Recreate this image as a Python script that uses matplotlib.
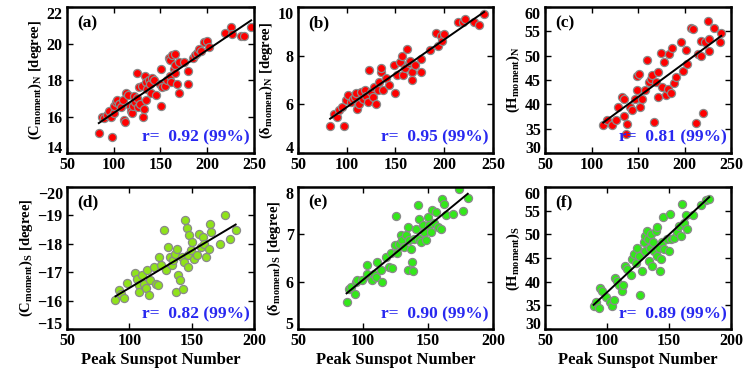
import matplotlib
matplotlib.use('Agg')
import matplotlib.pyplot as plt
import numpy as np

plt.rcParams['font.family'] = ['Liberation Serif', 'DejaVu Serif']
plt.rcParams['font.weight'] = 'bold'
plt.rcParams['axes.labelweight'] = 'bold'
plt.rcParams['mathtext.fontset'] = 'custom'
plt.rcParams['mathtext.rm'] = 'Liberation Serif:bold'
plt.rcParams['mathtext.bf'] = 'Liberation Serif:bold'
plt.rcParams['mathtext.it'] = 'Liberation Serif:bold'

# (a) C_moment north
ssn_a = [84, 98, 87, 90, 93, 95, 97, 100, 100, 102, 104, 106, 108, 110, 111, 112, 113, 115, 117, 118,
         120, 121, 122, 123, 125, 125, 126, 127, 128, 130, 131, 132, 133, 134, 135, 136, 138, 139, 140, 141,
         143, 145, 151, 151, 150, 152, 155, 157, 159, 160, 160, 161, 162, 165, 164, 165, 166, 168, 170, 170,
         175, 179, 179, 185, 187, 189, 191, 193, 197, 200, 202, 219, 225, 227, 236, 239, 247]
c_n = [15.1, 14.9, 16.0, 15.9, 16.1, 16.3, 16.0, 16.2, 16.6, 16.8, 16.9, 16.7, 16.5, 16.9, 15.8, 15.7, 17.3, 17.2, 16.6, 16.3,
       16.2, 16.6, 17.1, 16.8, 18.4, 17.0, 16.5, 17.6, 16.7, 17.7, 16.0, 16.4, 18.2, 16.9, 17.9, 17.5, 18.0, 17.8, 17.3, 18.1,
       18.0, 17.2, 18.6, 16.6, 17.8, 17.6, 17.7, 18.0, 19.2, 19.1, 18.2, 17.9, 19.4, 19.45, 18.6, 18.8, 18.4, 17.8, 17.3, 19.0,
       19.0, 18.5, 17.8, 19.2, 19.4, 19.5, 19.7, 19.6, 20.1, 20.15, 19.8, 20.6, 20.9, 20.5, 20.4, 20.4, 20.9]

# (b) delta_moment north
ssn_b = [83, 97, 87, 90, 92, 95, 99, 101, 104, 106, 108, 110, 111, 113, 115, 117, 119, 120, 122, 123,
         125, 127, 128, 130, 132, 133, 135, 135, 137, 140, 143, 148, 150, 152, 155, 157, 158, 160, 162, 164,
         165, 167, 167, 170, 176, 176, 185, 192, 194, 197, 198, 200, 214, 219, 221, 231, 236, 241]
d_n = [5.12, 5.09, 5.6, 5.5, 5.75, 5.9, 6.17, 6.4, 6.1, 6.2, 6.3, 6.45, 5.82, 6.0, 6.5, 6.2, 6.6, 6.35, 6.1, 7.42,
       6.5, 6.3, 6.7, 6.0, 6.6, 6.9, 7.35, 7.5, 6.6, 7.1, 6.8, 7.6, 6.48, 7.2, 7.73, 8.0, 7.2, 7.5, 8.27, 7.7,
       7.8, 7.35, 7.0, 7.6, 7.85, 7.35, 8.25, 8.95, 8.4, 8.8, 8.6, 8.9, 9.4, 9.4, 9.5, 9.4, 9.27, 9.72]

# (c) H_moment north
ssn_c = [112.6, 117, 122, 126, 129, 133, 135, 136.7, 138, 135, 141, 143, 147, 149, 149, 151, 152, 154, 158, 160,
         162, 163.7, 165.5, 167, 169, 171, 172, 174.5, 176, 178, 180, 182, 183.6, 185, 187, 189, 191, 196, 198, 201.6,
         203, 207, 209, 212.5, 214, 218, 219.7, 218, 221.5, 225, 226.6, 226, 232, 237.7, 239.5]
h_n = [35.8, 36.7, 35.8, 36.8, 39.4, 41.6, 37.6, 34.0, 36.0, 41.2, 39.5, 38.8, 41.2, 42.9, 45.8, 46.3, 39.5, 41.2, 42.9, 49.1,
       44.6, 45.3, 46.0, 36.4, 44.6, 46.7, 41.6, 50.5, 43.6, 48.8, 42.0, 43.1, 50.3, 42.4, 51.6, 44.3, 45.7, 52.8, 46.8, 51.2,
       48.4, 55.7, 55.4, 36.2, 50.3, 49.9, 38.2, 53.0, 52.8, 57.2, 51.0, 53.4, 55.6, 52.8, 54.7]

# (d) C_moment south
ssn_d = [88.9, 91.4, 93.6, 95.8, 97.8, 104.7, 106, 107.5, 108, 110, 111.7, 113, 114, 115.8, 116.4, 120, 121.4, 122.8, 124, 125.6,
         128, 129.7, 131, 132.5, 134, 135.3, 136.7, 137.5, 138.6, 139.4, 140.8, 142.2, 143, 143.6, 145, 146.4, 147.2, 147.2, 147.8, 149.2,
         150.5, 152, 154, 156, 157.5, 158.9, 160.3, 161.7, 163.6, 164.4, 165.8, 172.8, 177, 181, 185.3]
c_s = [-16.02, -16.37, -16.25, -16.08, -16.64, -16.96, -16.78, -16.55, -16.3, -16.9, -16.6, -16.43, -17.07, -16.2, -16.72, -17.19, -16.6, -16.55, -17.54, -17.25,
       -18.48, -17.07, -17.9, -17.54, -17.25, -17.42, -17.66, -16.31, -17.83, -16.9, -16.72, -17.54, -16.4, -17.37, -18.83, -18.54, -17.6, -17.19, -18.3, -17.77,
       -18.07, -17.48, -17.6, -18.36, -17.9, -18.24, -18.0, -17.54, -17.83, -18.71, -18.42, -18.0, -19.0, -18.18, -18.48]

# (e) delta_moment south
ssn_e = [87.4, 89.2, 90.5, 93.8, 94.3, 95.6, 99.5, 103.4, 103.4, 105.9, 107.2, 108.5, 109.8, 111, 113.7, 115, 117.5, 120, 121.4, 122.7,
         124.5, 125.3, 126.5, 127.8, 129, 130.4, 131.7, 133, 134.3, 135, 135.6, 136.9, 138, 138.6, 139.4, 140.7, 142, 143.3, 143.3, 144.6,
         145.9, 147.2, 148.5, 149.7, 151, 152.3, 153, 154.9, 156.2, 158, 160, 160.6, 162.5, 163.9, 169, 173.7, 176.7, 180.6]
d_s = [5.58, 5.84, 5.89, 5.75, 6.0, 6.03, 6.03, 6.35, 6.17, 6.07, 6.03, 6.17, 6.1, 6.42, 6.24, 6.0, 6.52, 6.31, 6.6, 6.28,
       6.77, 7.39, 6.6, 6.8, 6.98, 6.88, 6.74, 6.98, 6.24, 7.16, 6.88, 6.7, 6.42, 6.22, 6.91, 7.12, 7.61, 7.33, 6.91, 6.84,
       7.19, 7.05, 6.88, 7.37, 7.19, 7.05, 7.51, 7.23, 7.47, 7.16, 7.12, 7.75, 7.65, 7.4, 7.44, 7.95, 7.5, 7.77]

# (f) H_moment south
ssn_f = [89.2, 91.4, 93.2, 94.6, 95.9, 99.5, 102.7, 104, 105.4, 106.8, 108.1, 109.5, 112.2, 113, 114.9, 116.2, 119, 120.3, 121.6, 123,
         124.3, 125.7, 126.5, 128.4, 129.7, 130.3, 131, 132.4, 133, 133.8, 134.6, 135.1, 136.5, 137.3, 137.8, 139.2, 140, 140.5, 141.9, 142.7,
         143.2, 144.6, 145.4, 145.9, 148.6, 150, 150.8, 151.4, 154, 156.8, 158.1, 159.5, 160.8, 162.2, 163.5, 164.9, 169, 175.7, 179.7, 182.4]
h_s = [34.8, 35.8, 34.4, 38.7, 38.0, 36.7, 35.8, 34.8, 36.2, 40.8, 40.1, 39.4, 38.1, 39.4, 43.3, 42.6, 41.5, 44.7, 45.8, 44.0,
       47.2, 45.4, 37.3, 42.2, 48.3, 46.5, 49.7, 50.8, 49.0, 44.4, 47.2, 50.0, 43.3, 48.3, 46.5, 50.8, 45.4, 51.5, 47.2, 42.2,
       44.7, 48.3, 53.6, 46.9, 49.0, 46.5, 54.3, 49.0, 49.3, 50.4, 51.8, 49.7, 56.4, 52.5, 54.0, 51.1, 54.0, 56.1, 57.3, 57.5]

labels = ['(a)', '(b)', '(c)', '(d)', '(e)', '(f)']
r_text = ['r=  0.92 (99%)', 'r=  0.95 (99%)', 'r=  0.81 (99%)',
          'r=  0.82 (99%)', 'r=  0.90 (99%)', 'r=  0.89 (99%)']
ylabels = [r'(C$_\mathrm{moment}$)$_\mathrm{N}$ [degree]',
           r'(δ$_\mathrm{moment}$)$_\mathrm{N}$ [degree]',
           r'(H$_\mathrm{moment}$)$_\mathrm{N}$',
           r'(C$_\mathrm{moment}$)$_\mathrm{S}$ [degree]',
           r'(δ$_\mathrm{moment}$)$_\mathrm{S}$ [degree]',
           r'(H$_\mathrm{moment}$)$_\mathrm{S}$']
xs = [ssn_a, ssn_b, ssn_c, ssn_d, ssn_e, ssn_f]
ys = [c_n, d_n, h_n, c_s, d_s, h_s]
ylims = [(14, 22), (4, 10), (30, 60), (-15, -20), (5, 8), (30, 60)]
yticks = [[14, 16, 18, 20, 22], [4, 6, 8, 10], [30, 35, 40, 45, 50, 55, 60],
          [-20, -19, -18, -17, -16, -15], [5, 6, 7, 8], [30, 35, 40, 45, 50, 55, 60]]
xticks = [[50, 100, 150, 200, 250]] * 3 + [[50, 100, 150, 200]] * 3
colors = ['#ff0000'] * 3 + ['#8fe31a', '#33e81a', '#33e81a']

rects = [[0.0897, 0.591, 0.2503, 0.390], [0.3989, 0.591, 0.2610, 0.390], [0.7296, 0.591, 0.2490, 0.390],
         [0.0897, 0.120, 0.2503, 0.380], [0.3989, 0.120, 0.2610, 0.380], [0.7296, 0.120, 0.2490, 0.380]]

fig = plt.figure(figsize=(7.47, 3.74), dpi=100)

for i in range(6):
    ax = fig.add_axes(rects[i])
    x = np.array(xs[i])
    y = np.array(ys[i])
    ax.scatter(x, y, s=34, c=colors[i], edgecolors='#8a8a8a', linewidths=0.9, zorder=2)
    p = np.polyfit(x, y, 1)
    xx = np.array([x.min(), x.max()])
    ax.plot(xx, np.polyval(p, xx), color='black', lw=1.4, zorder=3)

    ax.set_xlim(xticks[i][0], xticks[i][-1])
    ax.set_ylim(ylims[i])
    ax.set_xticks(xticks[i])
    ax.set_xticklabels([str(v) for v in xticks[i]], fontweight='bold', fontsize=11.5)
    ax.set_yticks(yticks[i])
    ax.set_yticklabels([str(v).replace('-', '\u2212') for v in yticks[i]], fontweight='bold', fontsize=11.5)
    # end labels sit inside the frame, as in the original
    for v, t in zip(yticks[i], ax.get_yticklabels()):
        if v == ylims[i][0]:
            t.set_va('baseline')
        elif v == ylims[i][1]:
            t.set_va('top')
    ax.tick_params(direction='in', top=True, right=True, length=4, width=1, pad=3)
    for sp in ax.spines.values():
        sp.set_linewidth(1.8)

    ax.set_ylabel(ylabels[i], fontsize=10.5, fontweight='bold', labelpad=2)
    ax.text(0.055, 0.945, labels[i], transform=ax.transAxes, fontsize=12.5, fontweight='bold', va='top', ha='left')
    ax.text(0.975, 0.05, r_text[i], transform=ax.transAxes, fontsize=12.5, fontweight='bold',
            color='#2828f0', va='bottom', ha='right')
    if i >= 3:
        ax.set_xlabel('Peak Sunspot Number', fontsize=12, fontweight='bold', labelpad=2)

fig.savefig('out.png', dpi=100)
